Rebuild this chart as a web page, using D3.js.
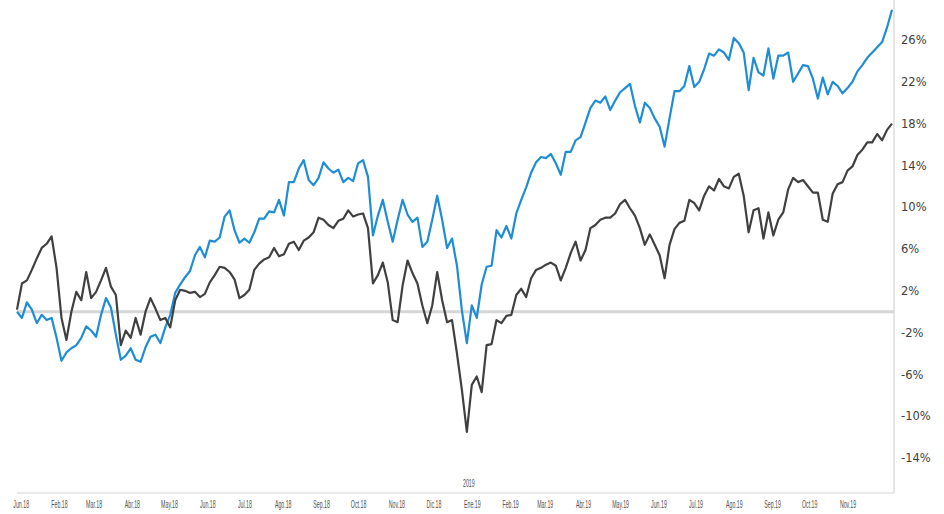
<!DOCTYPE html>
<html>
<head>
<meta charset="utf-8">
<style>
  body { margin: 0; background: #fff; }
  svg { display: block; }
  .ylab { font-family: "DejaVu Sans", sans-serif; font-size: 11.5px; fill: #404040; }
  .xlab { font-family: "Liberation Sans", sans-serif; font-size: 10.5px; fill: #505050; }
</style>
<script src="https://d3js.org/d3.v7.min.js"></script>
</head>
<body>
<svg width="944" height="514"></svg>
<script>
// one reading every 4 calendar days, starting 29 Dec 2017
const startDate = new Date(2017, 11, 29);
const stepDays = 4;

const grayValues = [
  0.2, 2.7, 3.0, 4.0, 5.1, 6.1, 6.5, 7.2, 4.2, -0.6,
  -2.7, 0.0, 1.9, 1.1, 3.8, 1.3, 1.9, 3.0, 4.2, 2.4,
  1.6, -3.2, -1.8, -2.5, -0.6, -2.2, 0.0, 1.3, 0.3, -0.8,
  -0.6, -1.5, 1.1, 2.1, 2.0, 1.8, 1.9, 1.4, 1.7, 2.8,
  3.5, 4.3, 4.2, 3.8, 3.1, 1.3, 1.6, 2.1, 4.0, 4.6,
  5.0, 5.2, 6.1, 5.3, 5.5, 6.5, 6.7, 5.9, 6.8, 7.1,
  7.6, 9.0, 8.8, 8.3, 8.0, 8.7, 8.9, 9.7, 9.1, 9.3,
  9.4, 8.0, 2.7, 3.5, 4.7, 2.8, -0.8, -1.0, 2.5, 4.9,
  3.7, 2.7, 0.6, -1.1, 0.6, 3.8, 1.1, -1.0, -0.8, -4.0,
  -7.5, -11.5, -7.0, -6.2, -7.7, -3.2, -3.1, -0.8, -1.1, -0.4,
  -0.3, 1.6, 2.2, 1.4, 3.2, 4.0, 4.2, 4.5, 4.7, 4.4,
  3.0, 4.2, 5.6, 6.7, 4.9, 5.9, 8.0, 8.3, 8.8, 9.0,
  9.0, 9.4, 10.3, 10.7, 9.9, 9.2, 8.0, 6.4, 7.4, 6.4,
  5.4, 3.2, 6.4, 7.9, 8.5, 8.7, 10.7, 10.4, 9.7, 11.1,
  12.0, 11.6, 12.7, 12.0, 11.8, 12.9, 13.2, 11.1, 7.6, 9.7,
  9.9, 7.0, 9.5, 7.3, 8.8, 9.5, 11.7, 12.8, 12.4, 12.6,
  12.0, 11.4, 11.4, 8.8, 8.6, 11.3, 12.2, 12.4, 13.5, 13.9,
  15.0, 15.5, 16.2, 16.2, 17.0, 16.4, 17.4, 18.0
];

const blueValues = [
  0.0, -0.6, 0.9, 0.2, -1.1, -0.3, -0.8, -0.6, -2.5, -4.7,
  -3.9, -3.5, -3.2, -2.5, -1.4, -1.8, -2.4, -0.3, 1.3, 0.4,
  -2.2, -4.6, -4.2, -3.5, -4.6, -4.8, -3.4, -2.4, -2.2, -3.0,
  -1.5, -0.3, 1.8, 2.6, 3.3, 3.9, 5.4, 6.2, 5.2, 6.8,
  6.7, 7.1, 9.1, 9.7, 7.8, 6.6, 7.0, 6.6, 7.6, 8.9,
  8.9, 9.6, 9.5, 10.7, 9.2, 12.4, 12.4, 13.7, 14.5, 12.6,
  12.1, 12.8, 14.3, 13.7, 13.3, 13.6, 12.4, 12.8, 12.5, 14.2,
  14.5, 12.9, 7.3, 9.2, 10.7, 8.6, 6.7, 8.8, 10.7, 9.3,
  8.6, 9.0, 6.2, 6.7, 8.8, 11.1, 8.8, 6.1, 7.0, 4.4,
  0.1, -3.0, 0.6, -0.6, 2.6, 4.3, 4.4, 7.8, 7.1, 8.2,
  7.0, 9.4, 10.7, 11.9, 13.3, 14.3, 14.8, 14.7, 15.1, 14.2,
  13.1, 15.3, 15.3, 16.4, 16.7, 18.1, 19.5, 20.2, 20.0, 20.6,
  19.3, 20.2, 21.0, 21.4, 21.8, 19.7, 18.1, 20.0, 19.5, 18.5,
  17.7, 15.8, 18.5, 21.1, 21.1, 21.6, 23.5, 21.5, 22.0, 23.2,
  24.7, 24.5, 25.1, 24.8, 24.1, 26.2, 25.7, 24.8, 21.2, 24.3,
  22.9, 22.6, 25.2, 22.3, 24.5, 24.5, 24.8, 22.0, 22.8, 23.6,
  23.5, 22.3, 20.4, 22.4, 20.8, 22.0, 21.6, 20.9, 21.4, 22.0,
  23.0, 23.6, 24.3, 24.8, 25.3, 25.8, 27.2, 28.9
];

const monthLabels = [
  "Jun.18", "Feb.18", "Mar.18", "Abr.18", "May.18", "Jun.18", "Jul.18", "Ago.18",
  "Sep.18", "Oct.18", "Nov.18", "Dic.18", "Ene.19", "Feb.19", "Mar.19", "Abr.19",
  "May.19", "Jun.19", "Jul.19", "Ago.19", "Sep.19", "Oct.19", "Nov.19"
];
const yTicks = [-14, -10, -6, -2, 2, 6, 10, 14, 18, 22, 26];
const yearLabel = "2019";

const dates = grayValues.map((d, i) => d3.timeDay.offset(startDate, i * stepDays));
const monthDates = monthLabels.map((d, i) => new Date(2018, i, 1));

const svg = d3.select('svg');

const xScale = d3.scaleTime()
  .domain([startDate, dates[dates.length - 1]])
  .range([17, 892]);

const yScale = d3.scaleLinear()
  .domain([-14, 26])
  .range([458, 40]);

// frame lines
svg.append('line')
  .attr('x1', 894).attr('x2', 894).attr('y1', 0).attr('y2', 493)
  .attr('stroke', '#dcdcdc').attr('stroke-width', 1.5);
svg.append('line')
  .attr('x1', 17).attr('x2', 894).attr('y1', 493).attr('y2', 493)
  .attr('stroke', '#e3e3e3').attr('stroke-width', 1.5);

// zero line
svg.append('line')
  .attr('x1', 17).attr('x2', 894)
  .attr('y1', yScale(0)).attr('y2', yScale(0))
  .attr('stroke', '#d6d6d6').attr('stroke-width', 3);

// y axis (labels only)
const yAxis = d3.axisRight(yScale).tickValues(yTicks).tickSize(0).tickPadding(0)
  .tickFormat(d => d + '%');
const yG = svg.append('g').attr('transform', 'translate(901,0)').call(yAxis);
yG.select('.domain').remove();
yG.selectAll('text').attr('class', 'ylab').attr('font-family', null).attr('font-size', null).attr('fill', null);

// x axis (labels only, squeezed like the original narrow font)
const xAxis = d3.axisBottom(xScale).tickValues(monthDates).tickSize(0).tickPadding(0)
  .tickFormat((d, i) => monthLabels[i]);
const xG = svg.append('g').attr('transform', 'translate(0,501)').call(xAxis);
xG.select('.domain').remove();
xG.selectAll('text')
  .attr('class', 'xlab').attr('font-family', null).attr('font-size', null).attr('fill', null)
  .attr('transform', 'scale(0.5,1)');

svg.append('text')
  .attr('class', 'xlab')
  .attr('text-anchor', 'middle')
  .attr('transform', `translate(${xScale(new Date(2019, 0, 1)) - 3},487) scale(0.5,1)`)
  .text(yearLabel);

const line = d3.line()
  .x((d, i) => xScale(dates[i]))
  .y(d => yScale(d));

svg.append('path')
  .datum(blueValues)
  .attr('fill', 'none')
  .attr('stroke', '#1f8dd6')
  .attr('stroke-width', 2.2)
  .attr('stroke-linejoin', 'round')
  .attr('d', line);

svg.append('path')
  .datum(grayValues)
  .attr('fill', 'none')
  .attr('stroke', '#404040')
  .attr('stroke-width', 2.2)
  .attr('stroke-linejoin', 'round')
  .attr('d', line);
</script>
</body>
</html>
